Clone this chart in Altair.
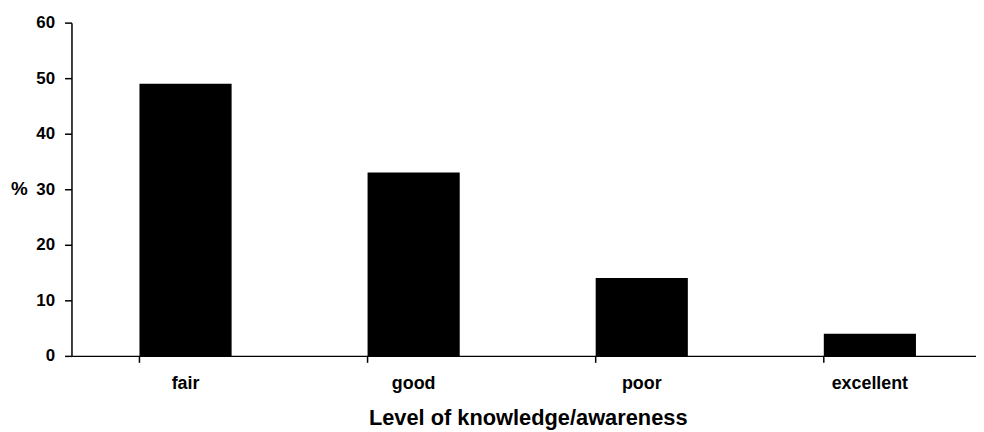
import altair as alt
import pandas as pd

categories = ["fair", "good", "poor", "excellent"]
percent = [49, 33, 14, 4]

df = pd.DataFrame({"level": categories, "pct": percent})

FONT = "Liberation Sans"

x_scale = alt.Scale(domain=categories, paddingInner=0.596, paddingOuter=0.298)

bars = alt.Chart(df).mark_bar(color="black").encode(
    x=alt.X(
        "level:N",
        sort=categories,
        scale=x_scale,
        axis=alt.Axis(
            title="Level of knowledge/awareness",
            labelAngle=0,
            ticks=False,
            tickSize=0,
            labelPadding=19,
            labelFont=FONT,
            labelFontSize=18,
            labelFontWeight="bold",
            labelColor="black",
            titleFont=FONT,
            titleFontSize=22,
            titleFontWeight="bold",
            titleColor="black",
            titleX=460,
            titleY=69,
            titleAlign="center",
            titleBaseline="alphabetic",
            domainColor="black",
            domainWidth=1.5,
        ),
    ),
    y=alt.Y(
        "pct:Q",
        scale=alt.Scale(domain=[0, 60]),
        axis=alt.Axis(
            title="%",
            titleAngle=0,
            titleX=-53,
            titleY=167,
            titleAlign="center",
            titleBaseline="middle",
            titleFont=FONT,
            titleFontSize=19,
            titleFontWeight="bold",
            titleColor="black",
            values=[0, 10, 20, 30, 40, 50, 60],
            grid=False,
            tickSize=7,
            tickColor="black",
            tickWidth=1.5,
            labelPadding=10,
            labelFont=FONT,
            labelFontSize=17,
            labelFontWeight="bold",
            labelColor="black",
            domainColor="black",
            domainWidth=1.5,
        ),
    ),
)

ticks = alt.Chart(df).mark_rule(color="black", strokeWidth=1.5).encode(
    x=alt.X("level:N", sort=categories, scale=x_scale, bandPosition=0),
    y=alt.value(336),
    y2=alt.value(343),
)

chart = alt.layer(bars, ticks).properties(
    width=920,
    height=336,
    autosize=alt.AutoSizeParams(type="none"),
    padding={"left": 64, "top": 13, "right": -8, "bottom": 75},
).configure_view(stroke=None)

chart.save("out.html", embed_options={"renderer": "svg", "actions": False})
